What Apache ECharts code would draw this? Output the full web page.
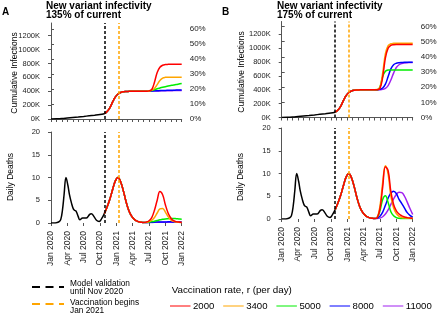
<!DOCTYPE html>
<html>
<head>
<meta charset="utf-8">
<script src="https://cdn.jsdelivr.net/npm/echarts@6/dist/echarts.min.js"></script>
<style>
  html, body { margin: 0; padding: 0; background: #fff; }
  #chart { width: 440px; height: 314px; }
</style>
</head>
<body>
<div id="chart"></div>
<script>
// x values are months counted from Jan 2020 (0 = Jan 2020, 24 = Jan 2022)
var monthLabels = ['Jan 2020', 'Apr 2020', 'Jul 2020', 'Oct 2020', 'Jan 2021', 'Apr 2021', 'Jul 2021', 'Oct 2021', 'Jan 2022'];
var labelMonths = [0, 3, 6, 9, 12, 15, 18, 21, 24];
var cumTicks = [0, 200, 400, 600, 800, 1000, 1200]; // thousands
var rates = ['2000', '3400', '5000', '8000', '11000'];
var rateColors = ['#ff0000', '#ffa500', '#00ee00', '#0000ff', '#a020f0'];
var panelTitles = ['New variant infectivity\n135% of current', 'New variant infectivity\n175% of current'];
var validationMonth = 9.8;
var vaccineMonth = 12.35;

// observed period (black)
var histX = [0, 1, 2, 3, 4, 5, 6, 7, 8, 9, 9.8];
var histCum = [0, 3, 8, 15, 22, 29, 37, 46, 55, 65, 76];
var deathX = [0, 0.5, 1, 1.5, 1.8, 2.1, 2.4, 2.75, 3.1, 3.4, 3.8, 4.1, 4.3, 4.6, 5.0, 5.3, 5.8, 6.5, 7.1, 7.4, 7.9, 8.35, 8.85, 9.3, 9.8];
var histDeaths = [0, 0, 0.05, 0.3, 0.8, 2.8, 6.2, 10, 8.3, 6.2, 4.2, 3.1, 2.8, 2.6, 1.4, 0.7, 1.1, 1.1, 1.9, 2.05, 1.4, 0.6, 0.35, 0.95, 2.05];

// model, first wave (same for every rate)
var earlyX = [9.8, 10.3, 10.8, 11.3, 11.8, 12.3, 12.8, 13.3, 13.8, 14.3, 14.8, 15.3, 15.8, 16.3, 16.8, 17];
var earlyCum = [76, 108, 162, 242, 314, 360, 382, 392, 396, 398, 399, 399, 400, 400, 400, 400];
var earlyDeaths = [2.05, 3.5, 5.2, 7.3, 9.2, 10, 9.0, 7.0, 4.6, 2.7, 1.5, 0.8, 0.4, 0.2, 0.12, 0.1];

// model, second wave, one row per rate
var lateX = [17.5, 18, 18.5, 19, 19.5, 20, 20.5, 21, 21.5, 22, 22.5, 23, 23.5, 24];
var aCumLate = [
  [401, 405, 425, 530, 670, 745, 775, 784, 787, 788, 788, 788, 788, 788],
  [401, 404, 415, 440, 495, 555, 590, 600, 602, 602, 603, 603, 603, 603],
  [400, 403, 410, 422, 436, 447, 457, 466, 474, 482, 490, 497, 505, 513],
  [400, 402, 404, 406, 407, 409, 410, 412, 413, 414, 415, 416, 417, 418],
  [400, 401, 402, 403, 404, 405, 406, 407, 408, 408, 409, 410, 410, 411]
];
var aDeathsLate = [
  [0.2, 0.5, 1.2, 2.8, 5.0, 6.9, 6.2, 4.0, 2.2, 1.1, 0.5, 0.3, 0.2, 0.12],
  [0.15, 0.3, 0.6, 1.2, 2.2, 3.1, 3.2, 2.4, 1.4, 0.7, 0.35, 0.2, 0.15, 0.1],
  [0.12, 0.2, 0.3, 0.4, 0.55, 0.7, 0.8, 0.9, 0.95, 1.0, 1.0, 0.95, 0.9, 0.85],
  [0.1, 0.12, 0.15, 0.18, 0.2, 0.22, 0.23, 0.24, 0.25, 0.25, 0.24, 0.23, 0.22, 0.2],
  [0.08, 0.1, 0.12, 0.14, 0.15, 0.16, 0.17, 0.18, 0.18, 0.18, 0.17, 0.16, 0.15, 0.14]
];
var bCumLate = [
  [401, 420, 580, 860, 1000, 1040, 1048, 1050, 1050, 1050, 1050, 1050, 1050, 1050],
  [402, 435, 640, 920, 1035, 1062, 1068, 1070, 1070, 1070, 1070, 1070, 1070, 1070],
  [401, 440, 590, 665, 683, 686, 686, 686, 686, 686, 686, 686, 686, 686],
  [400, 405, 425, 480, 590, 700, 760, 782, 790, 793, 795, 795, 795, 795],
  [398, 400, 405, 420, 460, 540, 640, 720, 760, 778, 786, 790, 791, 792]
];
var bDeathsLate = [
  [0.3, 2.2, 7.0, 11.5, 10.6, 6.0, 3.2, 1.8, 1.1, 0.7, 0.45, 0.3, 0.2, 0.15],
  [0.4, 2.8, 8.0, 11.7, 9.8, 5.0, 2.4, 1.2, 0.6, 0.35, 0.25, 0.2, 0.15, 0.1],
  [0.3, 1.8, 4.3, 5.1, 3.6, 1.6, 0.7, 0.3, 0.15, 0.1, 0.1, 0.1, 0.1, 0.1],
  [0.2, 0.6, 1.5, 3.0, 4.6, 5.7, 6.1, 5.6, 4.3, 3.4, 2.4, 1.4, 0.8, 0.4],
  [0.1, 0.2, 0.5, 1.1, 2.0, 3.2, 4.4, 5.4, 5.9, 5.8, 5.0, 3.7, 2.3, 1.0]
];

var FONT = 'Liberation Sans, Arial, Helvetica, sans-serif';
var AX = '#555';
var TXT = '#222';

function pairs(xs, ys) {
  return xs.map(function (x, i) { return [x, ys[i]]; });
}

// grids: per panel -> cumulative, percent axis, deaths
var grids = [
  { left: 51, right: 258.3, top: 23, height: 96 },
  { left: 51, right: 258.3, top: 29, height: 90 },
  { left: 51, right: 258.3, top: 132, height: 91 },
  { left: 281.7, right: 27.3, top: 21.5, height: 96 },
  { left: 281.7, right: 27.3, top: 26.5, height: 91 },
  { left: 281.7, right: 27.3, top: 128, height: 91 }
];

var axisLine = { show: true, lineStyle: { color: AX, width: 1 } };
var tickStyle = { color: AX, width: 1 };
var xAxes = [], yAxes = [];

[0, 3].forEach(function (g) {
  // cumulative panel
  xAxes.push({
    gridIndex: g, type: 'value', min: 0, max: 24, interval: 1, offset: 4,
    axisLine: axisLine, axisTick: { show: true, length: 3, lineStyle: tickStyle },
    axisLabel: { show: false }, splitLine: { show: false }
  });
  yAxes.push({
    gridIndex: g, type: 'value', min: 0, max: 1383, offset: 8,
    axisLine: axisLine,
    axisTick: { show: true, length: 3, customValues: cumTicks, lineStyle: tickStyle },
    axisLabel: { customValues: cumTicks, formatter: function (v) { return v + 'K'; },
      fontSize: 7.5, color: TXT, fontFamily: FONT, margin: 3 },
    splitLine: { show: false }
  });
  // percent axis
  xAxes.push({ gridIndex: g + 1, type: 'value', min: 0, max: 24, show: false });
  yAxes.push({
    gridIndex: g + 1, type: 'value', position: 'right', min: 0, max: 60, interval: 10, offset: 4,
    axisLine: axisLine, axisTick: { show: true, length: 3, lineStyle: tickStyle },
    axisLabel: { formatter: function (v) { return v + '%'; }, fontSize: 8, color: TXT, fontFamily: FONT, margin: 4 },
    splitLine: { show: false }
  });
  // deaths panel
  xAxes.push({
    gridIndex: g + 2, type: 'value', min: 0, max: 24, offset: 5,
    axisLine: { show: false },
    axisTick: { show: true, length: 3, customValues: labelMonths, lineStyle: tickStyle },
    axisLabel: { customValues: labelMonths, rotate: 90, fontSize: 8.5, color: TXT, fontFamily: FONT, margin: 3,
      formatter: function (v) { return monthLabels[labelMonths.indexOf(v)]; } },
    splitLine: { show: false }
  });
  yAxes.push({
    gridIndex: g + 2, type: 'value', min: 0, max: 20, interval: 5, offset: 8,
    axisLine: axisLine, axisTick: { show: true, length: 3, lineStyle: tickStyle },
    axisLabel: { fontSize: 7.5, color: TXT, fontFamily: FONT, margin: 3 },
    splitLine: { show: false }
  });
});

function dashes() {
  return {
    silent: true, symbol: ['none', 'none'], label: { show: false },
    lineStyle: { type: [3, 2], width: 1.5 },
    data: [
      { xAxis: validationMonth, lineStyle: { color: '#000' } },
      { xAxis: vaccineMonth, lineStyle: { color: '#ffa500' } }
    ]
  };
}

function line(axis, data, color) {
  return {
    type: 'line', xAxisIndex: axis, yAxisIndex: axis, data: data,
    symbol: 'none', smooth: 0.4, lineStyle: { color: color, width: 1.5 }, itemStyle: { color: color }
  };
}

var series = [];
function addPanel(g, cumLate, deathsLate) {
  for (var i = rates.length - 1; i >= 0; i--) {
    var cum = line(g, pairs(earlyX, earlyCum).concat(pairs(lateX, cumLate[i])), rateColors[i]);
    cum.name = rates[i];
    series.push(cum);
    var dd = line(g + 2, pairs(earlyX, earlyDeaths).concat(pairs(lateX, deathsLate[i])), rateColors[i]);
    dd.name = rates[i];
    series.push(dd);
  }
  var hc = line(g, pairs(histX, histCum), '#000');
  hc.markLine = dashes();
  series.push(hc);
  var hd = line(g + 2, pairs(deathX, histDeaths), '#000');
  hd.markLine = dashes();
  series.push(hd);
}
addPanel(0, aCumLate, aDeathsLate);
addPanel(3, bCumLate, bDeathsLate);

function txt(x, y, text, size, opts) {
  var o = {
    type: 'text', x: x, y: y, silent: true,
    style: { text: text, fill: '#000', fontSize: size, fontFamily: FONT, align: 'left', verticalAlign: 'middle' }
  };
  if (opts) {
    for (var k in opts) {
      if (k === 'rotation') o.rotation = opts[k]; else o.style[k] = opts[k];
    }
  }
  return o;
}

var graphic = [
  txt(2, 12.5, 'A', 10, { fontWeight: 'bold' }),
  txt(46, 1, panelTitles[0], 10, { fontWeight: 'bold', verticalAlign: 'top', lineHeight: 9.8 }),
  txt(222, 12.5, 'B', 10, { fontWeight: 'bold' }),
  txt(277, 1, panelTitles[1], 10, { fontWeight: 'bold', verticalAlign: 'top', lineHeight: 9.8 }),
  txt(14.5, 73, 'Cumulative Infections', 8.5, { align: 'center', rotation: Math.PI / 2 }),
  txt(11, 177, 'Daily Deaths', 8.5, { align: 'center', rotation: Math.PI / 2 }),
  txt(241.5, 72, 'Cumulative Infections', 8.5, { align: 'center', rotation: Math.PI / 2 }),
  txt(241, 177, 'Daily Deaths', 8.5, { align: 'center', rotation: Math.PI / 2 }),
  { type: 'line', silent: true, shape: { x1: 32, y1: 287, x2: 64, y2: 287 },
    style: { stroke: '#000', lineWidth: 1.8, lineDash: [8, 5.5] } },
  { type: 'line', silent: true, shape: { x1: 32, y1: 304, x2: 64, y2: 304 },
    style: { stroke: '#ffa500', lineWidth: 1.8, lineDash: [8, 5.5] } },
  txt(70, 287.5, 'Model validation\nuntil Nov 2020', 8.3, { lineHeight: 8 }),
  txt(70, 307, 'Vaccination begins\nJan 2021', 8.3, { lineHeight: 8 }),
  txt(171.7, 290, 'Vaccination rate, r (per day)', 9.8)
];
rates.forEach(function (r, i) {
  var x0 = 170 + i * 53.2;
  graphic.push({ type: 'line', silent: true, shape: { x1: x0, y1: 306, x2: x0 + 20.5, y2: 306 },
    style: { stroke: rateColors[i], lineWidth: 1 } });
  graphic.push(txt(x0 + 23, 306.5, r, 9.6));
});

var chart = echarts.init(document.getElementById('chart'), null, { renderer: 'canvas' });
chart.setOption({
  animation: false,
  backgroundColor: '#fff',
  grid: grids,
  xAxis: xAxes,
  yAxis: yAxes,
  series: series,
  graphic: graphic
});
</script>
</body>
</html>
